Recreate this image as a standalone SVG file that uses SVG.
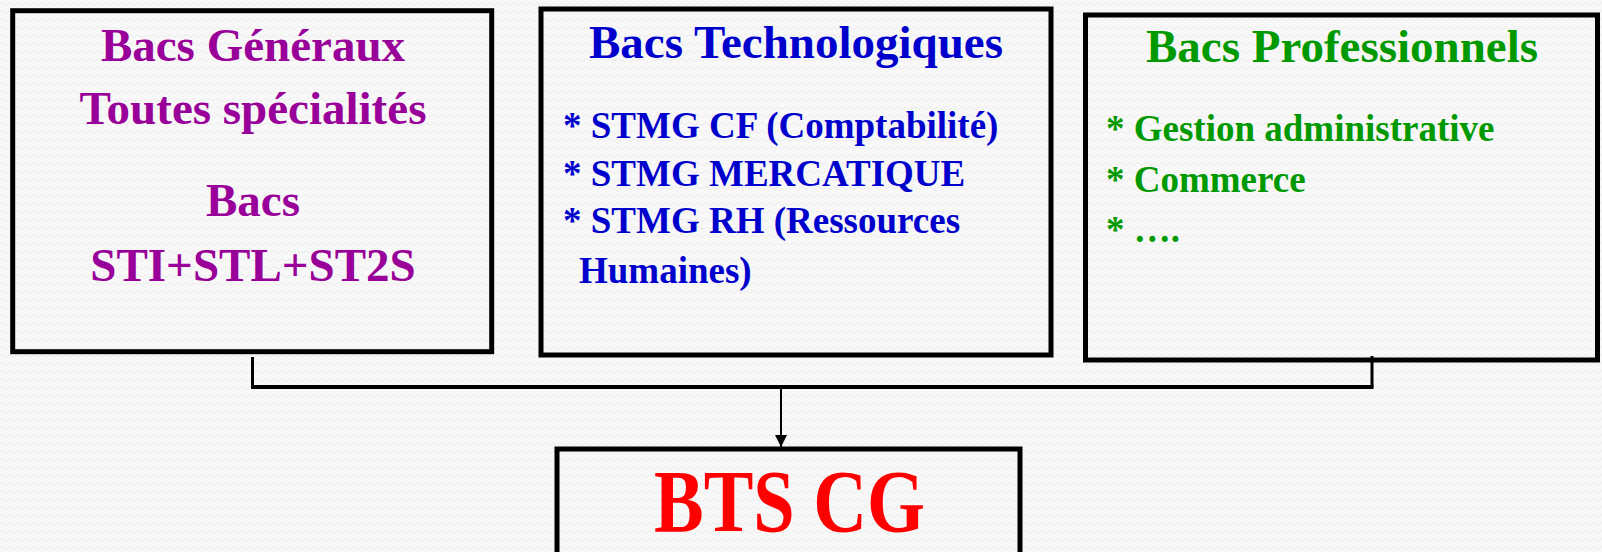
<svg xmlns="http://www.w3.org/2000/svg" width="1602" height="552" viewBox="0 0 1602 552">
<defs>
<pattern id="bgwave" width="8" height="8" patternUnits="userSpaceOnUse">
<rect width="8" height="8" fill="#f8f8f8"/>
<path d="M0,4 Q2,1 4,4 T8,4" fill="none" stroke="#ececec" stroke-width="1"/>
</pattern>
<marker id="arrow" viewBox="0 0 12 14" refX="12" refY="7" markerWidth="12" markerHeight="14" markerUnits="userSpaceOnUse" orient="auto">
<path d="M0,1 L12,7 L0,13 Z" fill="#000"/>
</marker>
</defs>
<style>
.box{fill:none;stroke:#000;stroke-width:5}
.t{font-family:"Liberation Serif","Times New Roman",serif;font-weight:bold}
.ttl{font-size:47px}
.itm{font-size:37px}
.purple{fill:#990099}
.blue{fill:#0000cc}
.green{fill:#009900}
.conn{fill:none;stroke:#000}
</style>
<rect width="1602" height="552" fill="url(#bgwave)"/>

<g id="node-generaux">
<rect class="box" x="12.7" y="10.7" width="479" height="341"/>
<text class="t ttl purple" x="253" y="61" text-anchor="middle">Bacs Généraux</text>
<text class="t ttl purple" x="253" y="124" text-anchor="middle">Toutes spécialités</text>
<text class="t ttl purple" x="253" y="216" text-anchor="middle">Bacs</text>
<text class="t ttl purple" x="253" y="281" text-anchor="middle">STI+STL+ST2S</text>
</g>

<g id="node-techno">
<rect class="box" x="541" y="9" width="510" height="346"/>
<text class="t ttl blue" x="796" y="58" text-anchor="middle">Bacs Technologiques</text>
<text class="t itm blue" x="563" y="138">* STMG CF (Comptabilité)</text>
<text class="t itm blue" x="563" y="186">* STMG MERCATIQUE</text>
<text class="t itm blue" x="563" y="233">* STMG RH (Ressources</text>
<text class="t itm blue" x="579" y="283">Humaines)</text>
</g>

<g id="node-pro">
<rect class="box" x="1085.5" y="15" width="512" height="345"/>
<text class="t ttl green" x="1342" y="62" text-anchor="middle">Bacs Professionnels</text>
<text class="t itm green" x="1106" y="141">* Gestion administrative</text>
<text class="t itm green" x="1106" y="192">* Commerce</text>
<text class="t itm green" x="1106" y="242">* ….</text>
</g>

<g id="node-bts">
<rect class="box" x="557" y="449" width="463" height="110"/>
<text class="t" x="789.5" y="531" text-anchor="middle" font-size="89" fill="#ff0000" textLength="271" lengthAdjust="spacingAndGlyphs">BTS CG</text>
</g>

<g id="connectors">
<path class="conn" stroke-width="3" d="M252.5,357 V387"/>
<path class="conn" stroke-width="3" d="M1372,356 V387"/>
<path class="conn" stroke-width="4" d="M251,387 H1373.5"/>
<path class="conn" stroke-width="2" d="M781,385 V447" marker-end="url(#arrow)"/>
</g>
</svg>
